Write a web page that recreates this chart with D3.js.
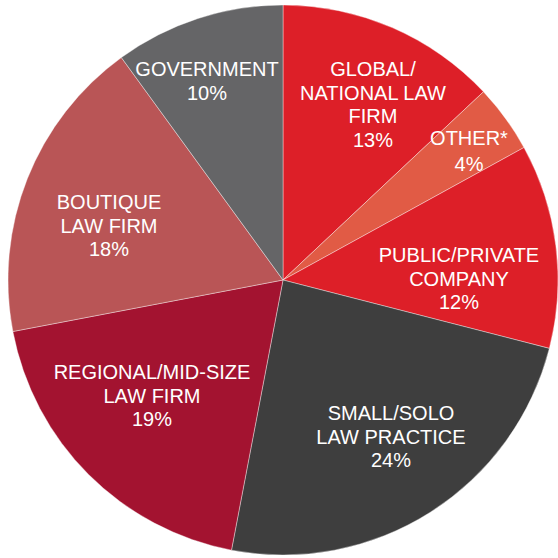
<!DOCTYPE html>
<html>
<head>
<meta charset="utf-8">
<script src="https://cdn.jsdelivr.net/npm/d3@7/dist/d3.min.js"></script>
<style>
  html, body { margin: 0; padding: 0; background: #fff; }
  svg { display: block; }
</style>
</head>
<body>
<script>
// data
var categories = [
  ["GLOBAL/", "NATIONAL LAW", "FIRM"],
  ["OTHER*"],
  ["PUBLIC/PRIVATE", "COMPANY"],
  ["SMALL/SOLO", "LAW PRACTICE"],
  ["REGIONAL/MID-SIZE", "LAW FIRM"],
  ["BOUTIQUE", "LAW FIRM"],
  ["GOVERNMENT"]
];
var values = [13, 4, 12, 24, 19, 18, 10];
var colors = ["#dd1f28", "#e15b45", "#dd1f28", "#3e3e3e", "#a31330", "#b95556", "#656567"];

// label anchors: centre x and first baseline, relative to the pie centre
var labelAt = [[90, -204], [186, -135], [176, -18], [108, 140], [-131, 99], [-174, -71], [-76, -204]];

var svgConfig = { width: 558, height: 558, cx: 283, cy: 280, radius: 275, lineHeight: 23.5 };

var svg = d3.select('body')
  .append('svg')
  .attr('width', svgConfig.width)
  .attr('height', svgConfig.height);

var g = svg.append('g')
  .attr('transform', 'translate(' + svgConfig.cx + ',' + svgConfig.cy + ')');

var pie = d3.pie().sort(null).value(function (d) { return d; });
var arc = d3.arc().innerRadius(0).outerRadius(svgConfig.radius);

var arcs = pie(values);

// slices
g.selectAll('.slice')
  .data(arcs)
  .enter()
  .append('path')
  .attr('class', 'slice')
  .attr('d', arc)
  .attr('fill', function (d, i) { return colors[i]; })
  .attr('stroke', 'rgba(255,255,255,0.55)')
  .attr('stroke-width', 0.7);

// labels
var labels = g.selectAll('.label')
  .data(arcs)
  .enter()
  .append('text')
  .attr('class', 'label')
  .attr('text-anchor', 'middle')
  .attr('fill', '#fff')
  .style('font-family', '"Liberation Sans", Arial, sans-serif')
  .style('font-size', '20px');

labels.each(function (d, i) {
  var t = d3.select(this);
  var lines = categories[i].concat([values[i] + '%']);
  var lh = i === 1 ? 26 : svgConfig.lineHeight;
  lines.forEach(function (line, j) {
    t.append('tspan')
      .attr('x', labelAt[i][0])
      .attr('y', labelAt[i][1] + j * lh)
      .text(line);
  });
});
</script>
</body>
</html>
